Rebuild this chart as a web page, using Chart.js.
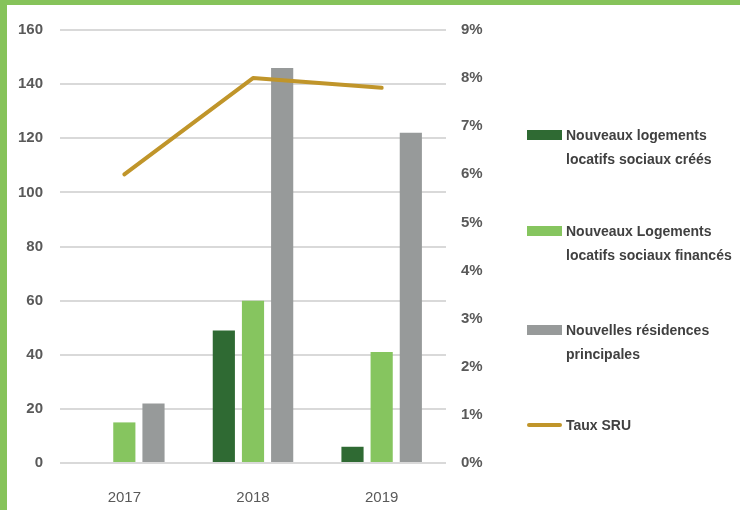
<!DOCTYPE html>
<html>
<head>
<meta charset="utf-8">
<script src="https://cdn.jsdelivr.net/npm/chart.js@4"></script>
<style>
    html, body { margin: 0; padding: 0; background: #fff; }
    #wrap {
        position: relative;
        width: 740px;
        height: 510px;
        box-sizing: border-box;
        border-top: 5px solid #86c35a;
        border-left: 7px solid #86c35a;
        overflow: hidden;
    }
    #myChart { position: absolute; left: -7px; top: -5px; }
    #legend {
        position: absolute;
        left: 520px;
        top: 0;
        font-family: "Liberation Sans", Arial, sans-serif;
        font-weight: bold;
        font-size: 14px;
        color: #404040;
    }
    .item { position: absolute; left: 0; white-space: nowrap; line-height: 24px; }
    .swatch { position: absolute; left: 0; width: 35px; }
    .txt { position: absolute; left: 39px; top: 0; }
</style>
</head>
<body>
<div id="wrap">
    <canvas id="myChart" width="740" height="510"></canvas>
    <div id="legend"></div>
</div>
<script>
// données
const annees = ['2017', '2018', '2019'];
const logementsCrees = [0, 49, 6];
const logementsFinances = [15, 60, 41];
const residencesPrincipales = [22, 146, 122];
const tauxSRU = [6.0, 8.0, 7.8]; // en %

const labelsSeries = [
    ['Nouveaux logements', 'locatifs sociaux créés'],
    ['Nouveaux Logements', 'locatifs sociaux financés'],
    ['Nouvelles résidences', 'principales'],
    ['Taux SRU']
];

const vertFonce = '#2f6a33';
const vertClair = '#86c55f';
const gris = '#979a9a';
const or = '#c0952a';

const ctx = document.getElementById('myChart').getContext('2d');

const config = {
    type: 'bar',
    data: {
        labels: annees,
        datasets: [
            {
                type: 'line',
                label: labelsSeries[3].join(' '),
                data: tauxSRU,
                yAxisID: 'y1',
                borderColor: or,
                backgroundColor: or,
                borderWidth: 4,
                pointRadius: 0,
                borderCapStyle: 'round',
                borderJoinStyle: 'round',
                tension: 0,
                order: 0
            },
            {
                label: labelsSeries[0].join(' '),
                data: logementsCrees,
                backgroundColor: vertFonce,
                yAxisID: 'y',
                order: 1
            },
            {
                label: labelsSeries[1].join(' '),
                data: logementsFinances,
                backgroundColor: vertClair,
                yAxisID: 'y',
                order: 1
            },
            {
                label: labelsSeries[2].join(' '),
                data: residencesPrincipales,
                backgroundColor: gris,
                yAxisID: 'y',
                order: 1
            }
        ]
    },
    options: {
        responsive: false,
        animation: false,
        layout: { padding: { left: 8, top: 30, right: 0, bottom: 0 } },
        datasets: {
            bar: { categoryPercentage: 0.68, barPercentage: 0.76 }
        },
        plugins: {
            legend: { display: false },
            tooltip: { enabled: false }
        },
        scales: {
            x: {
                grid: { display: false },
                border: { display: false },
                ticks: {
                    color: '#595959',
                    padding: 18,
                    font: { family: '"Liberation Sans", Arial, sans-serif', size: 15 }
                },
                afterFit: function (scale) { scale.height = 47; }
            },
            y: {
                position: 'left',
                min: 0,
                max: 160,
                grid: { color: '#d9d9d9', lineWidth: 2, drawTicks: false },
                border: { display: false },
                ticks: {
                    stepSize: 20,
                    color: '#595959',
                    padding: 17,
                    font: { family: '"Liberation Sans", Arial, sans-serif', size: 15, weight: 'bold' }
                },
                afterFit: function (scale) { scale.width = 52; }
            },
            y1: {
                position: 'right',
                min: 0,
                max: 9,
                grid: { display: false, drawTicks: false },
                border: { display: false },
                ticks: {
                    stepSize: 1,
                    color: '#595959',
                    padding: 15,
                    font: { family: '"Liberation Sans", Arial, sans-serif', size: 15, weight: 'bold' },
                    callback: function (v) { return v + '%'; }
                },
                afterFit: function (scale) { scale.width = 294; }
            }
        }
    }
};

const myChart = new Chart(ctx, config);

// légende à droite
const legendTops = [123, 219, 318, 413];
const ordreLegende = [1, 2, 3, 0];
const legend = document.getElementById('legend');
ordreLegende.forEach(function (dsIndex, i) {
    const ds = myChart.data.datasets[dsIndex];
    const item = document.createElement('div');
    item.className = 'item';
    item.style.top = (legendTops[i] - 5) + 'px';
    const sw = document.createElement('div');
    sw.className = 'swatch';
    sw.style.background = ds.backgroundColor;
    if (ds.type === 'line') {
        sw.style.height = '4px';
        sw.style.top = '10px';
        sw.style.borderRadius = '2px';
    } else {
        sw.style.height = '10px';
        sw.style.top = '7px';
    }
    const txt = document.createElement('div');
    txt.className = 'txt';
    txt.innerHTML = labelsSeries[i === 3 ? 3 : i].join('<br>');
    item.appendChild(sw);
    item.appendChild(txt);
    legend.appendChild(item);
});
</script>
</body>
</html>
